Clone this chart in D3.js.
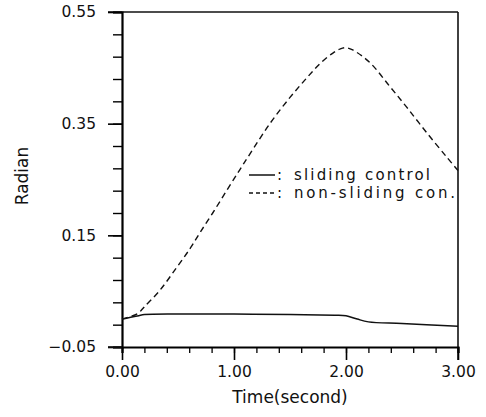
<!DOCTYPE html>
<html>
<head>
<meta charset="utf-8">
<script src="https://cdn.jsdelivr.net/npm/d3@7"></script>
<style>
  body { margin: 0; background: #fff; }
  svg { display: block; }
  text { font-family: "DejaVu Sans", sans-serif; fill: #111; }
</style>
</head>
<body>
<svg id="chart" width="486" height="417"></svg>
<script>
// ---------- data ----------
const slidingT = [0, 0.05, 0.1, 0.15, 0.2, 0.5, 1.0, 1.5, 1.9, 2.0, 2.1, 2.2, 2.5, 3.0];
const slidingV = [0.0, 0.002, 0.004, 0.006, 0.008, 0.009, 0.009, 0.008, 0.007, 0.006, 0.0, -0.005, -0.008, -0.013];

const nonSlidingT = [0, 0.14, 0.2, 0.34, 0.49, 0.61, 0.7, 0.81, 0.94, 1.05, 1.14, 1.32, 1.5, 1.65, 1.77, 1.88, 1.95, 2.0, 2.06, 2.21, 2.39, 2.54, 2.72, 2.9, 3.0];
const nonSlidingV = [0.0, 0.01, 0.022, 0.052, 0.093, 0.127, 0.156, 0.19, 0.232, 0.267, 0.295, 0.35, 0.397, 0.432, 0.458, 0.476, 0.484, 0.486, 0.482, 0.46, 0.417, 0.38, 0.334, 0.29, 0.266];

const xTicks = [0, 1, 2, 3];
const xTickLabels = ["0.00", "1.00", "2.00", "3.00"];
const yTicks = [-0.05, 0.15, 0.35, 0.55];
const yTickLabels = ["\u22120.05", "0.15", "0.35", "0.55"];
const legendLabels = ["sliding control", "non-sliding con."];

// ---------- layout ----------
const mLeft = 122, mRight = 458, mTop = 12, mBottom = 347;
const svg = d3.select("#chart");

const x = d3.scaleLinear().domain([0, 3]).range([mLeft, mRight]);
const y = d3.scaleLinear().domain([-0.05, 0.55]).range([mBottom, mTop]);

// frame (top and right)
svg.append("line").attr("x1", mLeft - 14).attr("x2", mRight).attr("y1", mTop).attr("y2", mTop)
  .attr("stroke", "#111").attr("stroke-width", 1.6);
svg.append("line").attr("x1", mRight).attr("x2", mRight).attr("y1", mTop).attr("y2", mBottom + 13)
  .attr("stroke", "#111").attr("stroke-width", 1.6);

// minor ticks
const yMinor = d3.range(-0.05, 0.5501, 0.04);
const xMinor = d3.range(0, 3.001, 0.2);

// y axis
const yAxis = svg.append("g").attr("transform", `translate(${mLeft},0)`)
  .call(d3.axisLeft(y).tickValues(yMinor).tickSize(9).tickFormat(""));
yAxis.select(".domain").attr("stroke-width", 2.2);
yAxis.selectAll(".tick line").attr("stroke-width", 1.4);
svg.append("g").attr("transform", `translate(${mLeft},0)`)
  .call(d3.axisLeft(y).tickValues(yTicks).tickSize(14).tickPadding(12)
    .tickFormat((d, i) => yTickLabels[i]))
  .call(g => g.select(".domain").remove())
  .call(g => g.selectAll(".tick line").attr("stroke-width", 1.6))
  .call(g => g.selectAll(".tick text").attr("font-size", 15.5).attr("font-family", "DejaVu Sans"));

// x axis
const xAxis = svg.append("g").attr("transform", `translate(0,${mBottom})`)
  .call(d3.axisBottom(x).tickValues(xMinor).tickSize(6).tickFormat(""));
xAxis.select(".domain").attr("stroke-width", 2.2);
xAxis.selectAll(".tick line").attr("stroke-width", 1.3);
svg.append("line").attr("x1", mLeft - 14).attr("x2", mLeft).attr("y1", mBottom).attr("y2", mBottom)
  .attr("stroke", "#111").attr("stroke-width", 1.6);
svg.append("g").attr("transform", `translate(0,${mBottom})`)
  .call(d3.axisBottom(x).tickValues(xTicks).tickSize(13).tickPadding(6)
    .tickFormat((d, i) => xTickLabels[i]))
  .call(g => g.select(".domain").remove())
  .call(g => g.selectAll(".tick line").attr("stroke-width", 1.6))
  .call(g => g.selectAll(".tick text").attr("font-size", 15.5).attr("font-family", "DejaVu Sans"));

// axis titles
svg.append("text").attr("x", 290).attr("y", 403).attr("text-anchor", "middle")
  .attr("font-size", 17).text("Time(second)");
svg.append("text").attr("transform", "translate(28,176) rotate(-90)").attr("text-anchor", "middle")
  .attr("font-size", 17).text("Radian");

// curves
const line = d3.line().x(d => x(d[0])).y(d => y(d[1])).curve(d3.curveCatmullRom.alpha(0.5));
const slidingData = slidingT.map((t, i) => [t, slidingV[i]]);
const nonSlidingData = nonSlidingT.map((t, i) => [t, nonSlidingV[i]]);

svg.append("path").datum(slidingData).attr("d", line)
  .attr("fill", "none").attr("stroke", "#111").attr("stroke-width", 1.5);
svg.append("path").datum(nonSlidingData).attr("d", line)
  .attr("fill", "none").attr("stroke", "#111").attr("stroke-width", 1.4)
  .attr("stroke-dasharray", "6,4");

// legend
const legend = svg.append("g");
const dashes = ["none", "4,3"];
legendLabels.forEach((lab, i) => {
  const ly = 175 + i * 18;
  legend.append("line").attr("x1", 249).attr("x2", 275).attr("y1", ly).attr("y2", ly)
    .attr("stroke", "#111").attr("stroke-width", 1.5).attr("stroke-dasharray", dashes[i]);
  legend.append("text").attr("x", 277).attr("y", ly + 5).attr("font-size", 15).text(":");
  legend.append("text").attr("x", 294).attr("y", ly + 5).attr("font-size", 15)
    .attr("textLength", i === 0 ? 136 : 161).attr("lengthAdjust", "spacing").text(lab);
});
</script>
</body>
</html>
